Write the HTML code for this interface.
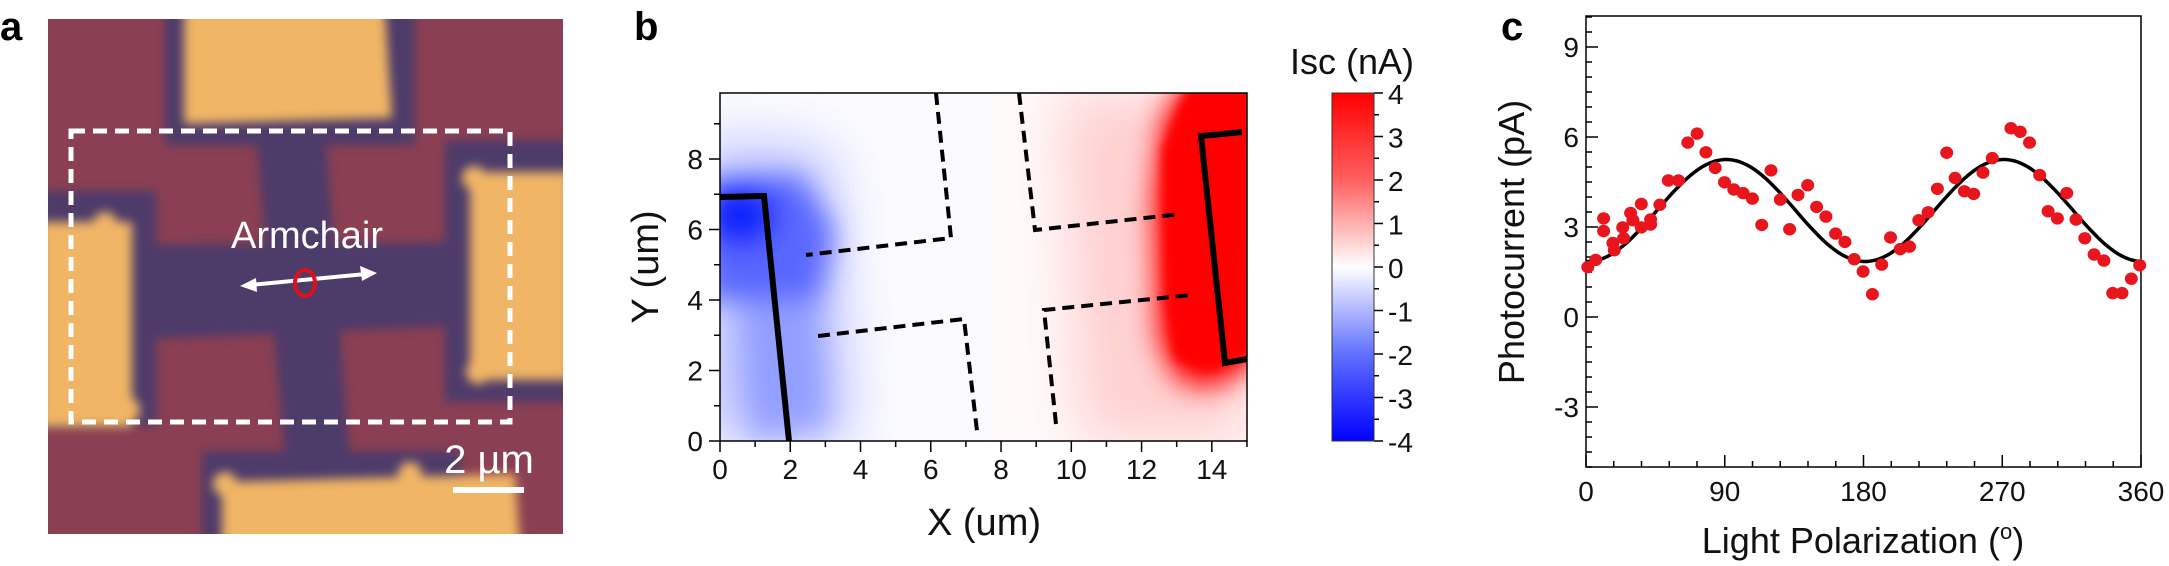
<!DOCTYPE html>
<html><head><meta charset="utf-8"><style>
html,body{margin:0;padding:0;background:#fff;}
svg{display:block;}
text{font-family:"Liberation Sans Narrow","Liberation Sans",sans-serif;}
.b{font-family:"Liberation Sans",sans-serif;font-weight:bold;}
</style></head><body>
<svg id="s" width="2169" height="566" viewBox="0 0 2169 566" xmlns="http://www.w3.org/2000/svg">
<defs>
<clipPath id="ca"><rect x="48" y="19" width="515" height="515"/></clipPath>
<clipPath id="cb"><rect x="720" y="93" width="527" height="348"/></clipPath>
<filter id="bl" x="-20%" y="-20%" width="140%" height="140%"><feGaussianBlur stdDeviation="5"/></filter>
<filter id="bl2" x="-50%" y="-50%" width="200%" height="200%"><feGaussianBlur stdDeviation="14"/></filter>
<filter id="bl3" x="-50%" y="-50%" width="200%" height="200%"><feGaussianBlur stdDeviation="28"/></filter>
<linearGradient id="cbg" x1="0" y1="0" x2="0" y2="1">
<stop offset="0" stop-color="#ff0000"/><stop offset="0.25" stop-color="#ff6060"/><stop offset="0.5" stop-color="#ffffff"/><stop offset="0.75" stop-color="#6070ff"/><stop offset="1" stop-color="#0000ff"/>
</linearGradient>
</defs>

<!-- Panel a -->
<text class="b" x="0" y="40" font-size="40">a</text>
<g clip-path="url(#ca)">
<rect x="48" y="19" width="515" height="515" fill="#8b3f52"/>
<g filter="url(#bl)" fill="#4e3b6b">
<polygon points="255,125 325,125 355,534 292,534"/>
<polygon points="124,245 478,242 478,325 124,340"/>
<rect x="165" y="10" width="250" height="135"/>
<rect x="445" y="140" width="130" height="262"/>
<rect x="40" y="191" width="116" height="235"/>
<rect x="202" y="451" width="258" height="90"/>
</g>
<g filter="url(#bl)" fill="#f0b565">
<polygon points="184,10 385,10 392,118 184,124"/>
<rect x="40" y="222" width="92" height="205"/>
<circle cx="105" cy="224" r="12"/><circle cx="127" cy="410" r="13"/>
<rect x="470" y="172" width="100" height="208"/>
<circle cx="474" cy="178" r="12"/><circle cx="478" cy="372" r="12"/>
<polygon points="222,482 515,474 520,545 222,545"/>
<circle cx="225" cy="484" r="12"/><circle cx="410" cy="474" r="12"/>
</g>
</g>
<rect x="71" y="131" width="439" height="291" fill="none" stroke="#fff" stroke-width="5" stroke-dasharray="14,8"/>
<text x="307" y="248" font-family="Liberation Sans" font-size="38" fill="#fff" text-anchor="middle" style="font-family:'Liberation Sans',sans-serif">Armchair</text>
<line x1="250" y1="285" x2="366" y2="274" stroke="#fff" stroke-width="4"/>
<polygon points="240,286 256,278 257,292" fill="#fff"/>
<polygon points="377,273 360,266 362,281" fill="#fff"/>
<ellipse cx="305" cy="283" rx="10" ry="13" fill="none" stroke="#e0101a" stroke-width="4"/>
<text x="489" y="473" font-size="40" fill="#fff" text-anchor="middle" style="font-family:'Liberation Sans',sans-serif">2 µm</text>
<rect x="453" y="487" width="71" height="6" fill="#fff"/>

<!-- Panel b -->
<text class="b" x="634" y="40" font-size="40">b</text>
<g clip-path="url(#cb)">
<rect x="720" y="93" width="527" height="348" fill="#fbfbff"/>
<rect x="990" y="93" width="260" height="348" fill="#fffafa"/>
<g filter="url(#bl3)">
<polygon points="700,140 830,150 850,441 700,441" fill="#8a95ff" opacity="0.55"/>
<polygon points="1060,93 1250,93 1250,441 1080,441" fill="#ff8080" opacity="0.35"/>
</g>
<g filter="url(#bl2)">
<polygon points="700,180 800,175 835,230 820,300 700,300" fill="#4050ff" opacity="0.8"/>
<polygon points="740,300 820,300 830,430 750,441" fill="#7080ff" opacity="0.55"/>
<ellipse cx="740" cy="215" rx="35" ry="30" fill="#1020ff"/>
<polygon points="1185,80 1260,80 1260,360 1215,388 1178,382 1158,340 1153,200 1162,120" fill="#ff0000"/>
</g>
<polygon points="1190,80 1260,80 1260,350 1210,370 1175,360 1165,300 1162,150" fill="#ff0000" filter="url(#bl)"/>
</g>
<g stroke="#000" fill="none" stroke-linecap="butt">
<polyline points="720,197 764,196 789,441" stroke-width="6"/>
<polyline points="1242,132 1201,136 1225,363 1247,359" stroke-width="6"/>
<g stroke-width="4" stroke-dasharray="12,7">
<polyline points="936,93 951,238 806,255"/>
<polyline points="1019,93 1035,230 1181,214"/>
<polyline points="818,336 964,319 977,431"/>
<polyline points="1056,424 1044,310 1191,295"/>
</g>
</g>
<rect x="720" y="93" width="527" height="348" fill="none" stroke="#000" stroke-width="1.5"/>
<g id="bticks" stroke="#000" stroke-width="1.5"></g>
<g font-size="28" fill="#111" id="blabels"></g>
<text x="984" y="535" font-size="38" text-anchor="middle" fill="#111">X (um)</text>
<text transform="translate(658,267) rotate(-90)" font-size="38" text-anchor="middle" fill="#111">Y (um)</text>
<rect x="1332" y="93" width="42" height="348" fill="url(#cbg)"/>
<rect x="1332" y="93" width="42" height="348" fill="none" stroke="#333" stroke-width="1"/>
<text x="1352" y="74" font-size="36" text-anchor="middle" fill="#111">Isc (nA)</text>

<!-- Panel c -->
<text class="b" x="1501" y="40" font-size="40">c</text>
<rect x="1586" y="16" width="555" height="451" fill="none" stroke="#000" stroke-width="1.5"/>
<g id="cticks" stroke="#000" stroke-width="1.5"></g>
<g font-size="28" fill="#111" id="clabels"></g>
<path id="curve" fill="none" stroke="#000" stroke-width="3.5"/>
<g id="dots" fill="#e8161c"></g>
<text transform="translate(1524,242) rotate(-90)" font-size="36" text-anchor="middle" fill="#111">Photocurrent (pA)</text>
<text x="1863" y="553" font-size="36" text-anchor="middle" fill="#111">Light Polarization (<tspan font-size="22" dy="-14">o</tspan><tspan dy="14">)</tspan></text>
</svg>
<script>
var NS="http://www.w3.org/2000/svg";
function el(p,t,a,txt){var e=document.createElementNS(NS,t);for(var k in a)e.setAttribute(k,a[k]);if(txt!==undefined)e.textContent=txt;document.getElementById(p).appendChild(e);return e;}
// panel b ticks
for(var i=0;i<=15;i++){var x=720+i*35.13;el("bticks","line",{x1:x,y1:441,x2:x,y2:i%2?447:452});if(i%2==0)el("blabels","text",{x:x,y:479,"text-anchor":"middle"},i);}
for(var j=0;j<=9;j++){var y=441-j*35.25;el("bticks","line",{x1:720,y1:y,x2:j%2?714:709,y2:y});if(j%2==0)el("blabels","text",{x:703,y:y+10,"text-anchor":"end"},j);}
for(var v=-4;v<=4;v++){var y=267-v*43.5;el("bticks","line",{x1:1374,y1:y,x2:1383,y2:y});el("blabels","text",{x:1388,y:y+11},v);}
for(var v=-3.5;v<4;v++){var y=267-v*43.5;el("bticks","line",{x1:1374,y1:y,x2:1379,y2:y});}
// panel c ticks
for(var d=0;d<=360;d+=18){var x=1586+d*1.5417;var maj=d%90==0;el("cticks","line",{x1:x,y1:467,x2:x,y2:maj?455:461});if(maj)el("clabels","text",{x:x,y:501,"text-anchor":"middle"},d);}
for(var p=-5;p<=10.001;p+=0.5){var y=317-p*30;var maj=Math.abs(p%3)<1e-6;el("cticks","line",{x1:1586,y1:y,x2:maj?1598:1592,y2:y});if(maj)el("clabels","text",{x:1579,y:y+10,"text-anchor":"end"},Math.round(p));}
var dpath="";for(var d=0;d<=360;d+=2){var val=3.55-1.7*Math.cos(2*(d-1)*Math.PI/180);var x=1586+d*1.5417,y=317-val*30;dpath+=(d?"L":"M")+x.toFixed(1)+","+y.toFixed(1);}
document.getElementById("curve").setAttribute("d",dpath);
var pts=[[318,740],[335,720],[352,605],[352,640],[372,673],[375,693],[393,630],[395,660],[410,590],[415,610],[433,565],[433,630],[453,608],[453,622],[473,567],[491,500],[513,500],[533,395],[553,370],[572,422],[592,465],[612,505],[632,525],[652,535],[672,550],[692,623],[712,472],[732,553],[752,635],[770,540],[791,513],[810,573],[830,600],[851,647],[871,670],[891,718],[910,752],[930,815],[950,733],[969,658],[990,690],[1010,683],[1030,610],[1050,588],[1070,523],[1090,423],[1108,493],[1128,530],[1148,537],[1168,478],[1188,438],[1228,355],[1248,365],[1268,395],[1290,485],[1308,585],[1328,605],[1348,535],[1368,608],[1387,660],[1407,705],[1428,722],[1447,812],[1467,812],[1487,772],[1505,735]];
pts.forEach(function(q){el("dots","ellipse",{cx:(1440+q[0]/2.151).toFixed(1),cy:(q[1]/2.77).toFixed(1),rx:6.5,ry:6.2});});
</script>
</body></html>
